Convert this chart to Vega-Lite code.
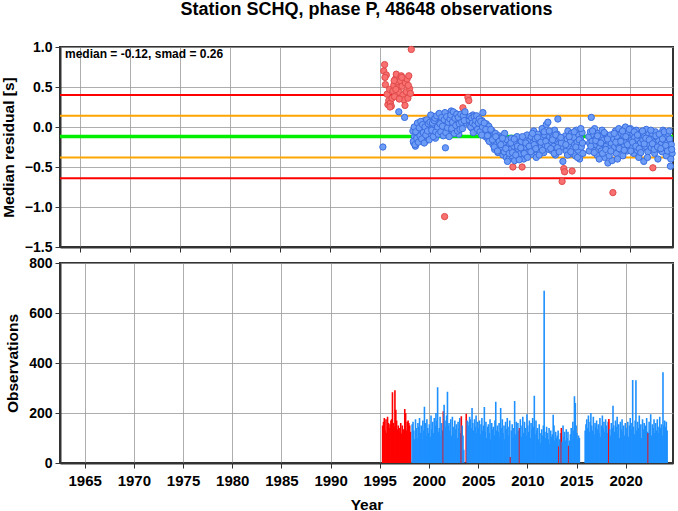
{
"$schema": "https://vega.github.io/schema/vega-lite/v6.json",
"padding": {"left": 0, "top": 1, "right": 2, "bottom": 0},
"title": {"text": "Station SCHQ, phase P, 48648 observations", "font": "Liberation Sans", "fontSize": 18, "fontWeight": "bold", "color": "#000", "anchor": "middle", "frame": "group", "offset": 20},
"bounds": "flush",
"spacing": 16,
"config": {
  "font": "Liberation Sans",
  "view": {"stroke": "#333", "strokeWidth": 2},
  "axis": {"labelFont": "Liberation Sans", "labelFontSize": 14, "labelFontWeight": "bold", "labelColor": "#000", "titleFont": "Liberation Sans", "titleFontSize": 15.5, "titleFontWeight": "bold", "titleColor": "#000", "gridColor": "#999", "gridWidth": 0.8, "domainColor": "#333", "domainWidth": 2, "tickColor": "#333", "tickSize": 5, "tickWidth": 1, "labelPadding": 3, "labelOverlap": false, "labelFlush": false}
},
"datasets": {
"lines": [{"v": 0.40, "c": "r"}, {"v": 0.14, "c": "o"}, {"v": -0.12, "c": "g"}, {"v": -0.38, "c": "o"}, {"v": -0.64, "c": "r"}],
"p2": [
{"t":1995.50,"m":0.62,"f":1},{"t":1996.00,"m":0.25,"f":1},{"t":1996.42,"m":0.58,"f":1},{"t":1996.58,"m":0.47,"f":1},{"t":1996.92,"m":0.35,"f":1},{"t":1997.17,"m":0.62,"f":1},{"t":1997.50,"m":0.27,"f":1},{"t":1997.83,"m":0.52,"f":1},
{"t":1998.33,"m":-0.18},{"t":1998.42,"m":0.00},{"t":1998.50,"m":-0.22},{"t":1998.58,"m":-0.06},{"t":1998.67,"m":-0.14},{"t":1998.75,"m":0.05},{"t":1998.83,"m":-0.19},{"t":1998.92,"m":-0.01},{"t":1999.00,"m":-0.11},
{"t":1999.08,"m":0.07},{"t":1999.17,"m":-0.15},{"t":1999.25,"m":0.03},{"t":1999.33,"m":-0.07},{"t":1999.42,"m":-0.20},{"t":1999.50,"m":0.00},{"t":1999.58,"m":-0.10},{"t":1999.67,"m":0.09},{"t":1999.75,"m":-0.05},{"t":1999.83,"m":0.04},{"t":1999.92,"m":-0.16},{"t":2000.00,"m":0.06},
{"t":2000.08,"m":0.15},{"t":2000.17,"m":-0.04},{"t":2000.25,"m":0.05},{"t":2000.33,"m":-0.12},{"t":2000.42,"m":0.08},{"t":2000.50,"m":0.11},{"t":2000.58,"m":-0.06},{"t":2000.67,"m":0.14},{"t":2000.75,"m":0.00},{"t":2000.83,"m":-0.09},{"t":2000.92,"m":0.17},{"t":2001.00,"m":0.04},
{"t":2001.08,"m":-0.06},{"t":2001.17,"m":0.12},{"t":2001.25,"m":0.01},{"t":2001.33,"m":-0.11},{"t":2001.42,"m":0.09},{"t":2001.50,"m":0.18},{"t":2001.58,"m":-0.07},{"t":2001.67,"m":0.13},{"t":2001.75,"m":-0.01},{"t":2001.83,"m":0.06},{"t":2001.92,"m":-0.12},{"t":2002.00,"m":0.10},
{"t":2002.08,"m":0.15},{"t":2002.17,"m":-0.02},{"t":2002.25,"m":0.06},{"t":2002.33,"m":0.19},{"t":2002.42,"m":-0.08},{"t":2002.50,"m":0.11},{"t":2002.58,"m":0.02},{"t":2002.67,"m":0.16},{"t":2002.75,"m":-0.05},{"t":2002.83,"m":0.12},{"t":2002.92,"m":0.04},{"t":2003.00,"m":-0.03},
{"t":2003.08,"m":0.16},{"t":2003.17,"m":0.06},{"t":2003.25,"m":-0.02},{"t":2003.33,"m":0.14},{"t":2003.42,"m":0.08},{"t":2003.50,"m":0.19},{"t":2003.92,"m":0.09},{"t":2004.00,"m":0.13},
{"t":2004.08,"m":0.00},{"t":2004.17,"m":0.11},{"t":2004.25,"m":0.05},{"t":2004.33,"m":-0.07},{"t":2004.42,"m":0.13},{"t":2004.50,"m":0.03},{"t":2004.58,"m":0.08},{"t":2004.67,"m":0.14},{"t":2004.75,"m":-0.03},{"t":2004.83,"m":0.05},{"t":2004.92,"m":0.10},{"t":2005.00,"m":-0.06},
{"t":2005.08,"m":0.07},{"t":2005.17,"m":-0.10},{"t":2005.25,"m":0.00},{"t":2005.42,"m":0.05},{"t":2005.58,"m":-0.03},{"t":2005.75,"m":-0.11},{"t":2005.92,"m":-0.18},
{"t":2006.08,"m":-0.03},{"t":2006.25,"m":-0.16},{"t":2006.42,"m":-0.25},{"t":2006.58,"m":-0.12},{"t":2006.75,"m":-0.30},{"t":2006.92,"m":-0.18},
{"t":2007.08,"m":-0.22},{"t":2007.25,"m":-0.14},{"t":2007.42,"m":-0.31},{"t":2007.58,"m":-0.27},{"t":2007.75,"m":-0.43},{"t":2007.92,"m":-0.33},
{"t":2008.08,"m":-0.20},{"t":2008.25,"m":-0.32},{"t":2008.42,"m":-0.15},{"t":2008.58,"m":-0.35},{"t":2008.75,"m":-0.24},{"t":2008.92,"m":-0.41},
{"t":2009.08,"m":-0.26},{"t":2009.25,"m":-0.12},{"t":2009.42,"m":-0.33},{"t":2009.58,"m":-0.20},{"t":2009.75,"m":-0.38},{"t":2009.92,"m":-0.24},
{"t":2010.08,"m":-0.31},{"t":2010.25,"m":-0.08},{"t":2010.42,"m":-0.22},{"t":2010.58,"m":-0.27},{"t":2010.75,"m":-0.13},{"t":2010.92,"m":-0.35},
{"t":2011.08,"m":-0.19},{"t":2011.25,"m":-0.29},{"t":2011.42,"m":-0.06},{"t":2011.58,"m":-0.18},{"t":2011.75,"m":-0.24},{"t":2011.92,"m":-0.05},
{"t":2012.08,"m":-0.27},{"t":2012.25,"m":-0.16},{"t":2012.42,"m":-0.33},{"t":2012.58,"m":-0.10},{"t":2012.75,"m":-0.26},{"t":2012.92,"m":-0.31},
{"t":2013.08,"m":-0.13},{"t":2013.58,"m":-0.22},{"t":2013.75,"m":-0.35},{"t":2013.92,"m":-0.12},
{"t":2014.08,"m":-0.31},{"t":2014.42,"m":-0.06},{"t":2014.58,"m":-0.25},{"t":2014.75,"m":-0.38},{"t":2014.92,"m":-0.16},
{"t":2015.08,"m":-0.02},{"t":2015.25,"m":-0.20},{"t":2015.92,"m":-0.30},
{"t":2016.08,"m":-0.24},{"t":2016.25,"m":-0.05},{"t":2016.42,"m":-0.32},{"t":2016.58,"m":-0.17},{"t":2016.75,"m":-0.11},{"t":2016.92,"m":-0.40},
{"t":2017.08,"m":-0.20},{"t":2017.25,"m":-0.33},{"t":2017.42,"m":-0.07},{"t":2017.58,"m":-0.28},{"t":2017.75,"m":-0.15},{"t":2017.92,"m":-0.36},
{"t":2018.08,"m":-0.30},{"t":2018.42,"m":-0.08},{"t":2018.58,"m":-0.19},{"t":2018.75,"m":-0.40},{"t":2018.92,"m":-0.27},
{"t":2019.08,"m":-0.18},{"t":2019.25,"m":-0.05},{"t":2019.42,"m":-0.29},{"t":2019.58,"m":-0.12},{"t":2019.75,"m":-0.22},{"t":2019.92,"m":-0.03},
{"t":2020.08,"m":-0.30},{"t":2020.25,"m":-0.19},{"t":2020.42,"m":-0.06},{"t":2020.58,"m":-0.24},{"t":2020.75,"m":-0.10},{"t":2020.92,"m":-0.27},
{"t":2021.08,"m":-0.32},{"t":2021.25,"m":-0.05},{"t":2021.42,"m":-0.21},{"t":2021.58,"m":-0.14},{"t":2021.75,"m":-0.38},{"t":2021.92,"m":-0.16},
{"t":2022.08,"m":-0.04},{"t":2022.25,"m":-0.21},{"t":2022.42,"m":-0.28},{"t":2022.58,"m":-0.11},{"t":2022.75,"m":-0.25},{"t":2022.92,"m":-0.09},
{"t":2023.08,"m":-0.27},{"t":2023.25,"m":-0.15},{"t":2023.42,"m":-0.06},{"t":2023.58,"m":-0.23},{"t":2023.75,"m":-0.30},{"t":2023.92,"m":-0.05},
{"t":2024.08,"m":-0.40},{"t":2024.17,"m":-0.28}
],
"d": [
{"t":1995.29,"m":-0.25,"n":150,"g":1},
{"t":1995.38,"m":0.70,"n":165,"f":1,"g":1},
{"t":1995.46,"m":0.78,"n":180,"f":1,"g":1},
{"t":1995.54,"m":0.53,"n":130,"f":1,"g":1},
{"t":1995.63,"m":0.65,"n":175,"f":1,"g":1},
{"t":1995.71,"m":0.41,"n":120,"f":1,"g":1},
{"t":1995.79,"m":0.28,"n":185,"f":1,"g":1},
{"t":1995.88,"m":0.33,"n":160,"f":1,"g":1},
{"t":1995.96,"m":0.47,"n":140,"f":1,"g":1},
{"t":1996.04,"m":0.30,"n":155,"f":1,"g":1},
{"t":1996.13,"m":0.26,"n":170,"f":1,"g":1},
{"t":1996.21,"m":0.36,"n":175,"f":1,"g":1},
{"t":1996.29,"m":0.45,"n":283,"f":1,"g":1},
{"t":1996.38,"m":0.52,"n":160,"f":1,"g":1},
{"t":1996.46,"m":0.38,"n":145,"f":1,"g":1},
{"t":1996.54,"m":0.60,"n":291,"f":1,"g":1},
{"t":1996.63,"m":0.66,"n":213,"f":1,"g":1},
{"t":1996.71,"m":0.56,"n":170,"f":1,"g":1},
{"t":1996.79,"m":0.49,"n":135,"f":1,"g":1},
{"t":1996.88,"m":0.19,"n":150,"g":1},
{"t":1996.96,"m":0.43,"n":125,"f":1,"g":1},
{"t":1997.04,"m":0.58,"n":140,"f":1,"g":1},
{"t":1997.13,"m":0.64,"n":160,"f":1,"g":1},
{"t":1997.21,"m":0.51,"n":118,"f":1,"g":1},
{"t":1997.29,"m":0.40,"n":150,"f":1,"g":1},
{"t":1997.38,"m":0.34,"n":135,"f":1,"g":1},
{"t":1997.46,"m":0.12,"n":125,"g":1},
{"t":1997.54,"m":0.55,"n":216,"f":1,"g":1},
{"t":1997.63,"m":0.44,"n":200,"f":1,"g":1},
{"t":1997.71,"m":0.60,"n":130,"f":1,"g":1},
{"t":1997.79,"m":0.36,"n":165,"f":1,"g":1},
{"t":1997.88,"m":0.64,"n":170,"f":1,"g":1},
{"t":1997.96,"m":0.48,"n":160,"f":1,"g":1},
{"t":1998.04,"m":0.42,"n":150,"f":1,"g":1},
{"t":1998.13,"m":0.97,"n":125,"f":1,"g":1},
{"t":1998.29,"m":-0.05,"n":155},
{"t":1998.38,"m":-0.20,"n":165},
{"t":1998.46,"m":-0.12,"n":130},
{"t":1998.54,"m":-0.24,"n":95},
{"t":1998.63,"m":-0.02,"n":175},
{"t":1998.71,"m":-0.10,"n":140},
{"t":1998.79,"m":0.02,"n":100},
{"t":1998.88,"m":-0.08,"n":160},
{"t":1998.96,"m":-0.15,"n":145},
{"t":1999.04,"m":-0.04,"n":180},
{"t":1999.13,"m":0.05,"n":120},
{"t":1999.21,"m":-0.12,"n":150},
{"t":1999.29,"m":-0.02,"n":95},
{"t":1999.38,"m":-0.09,"n":170},
{"t":1999.46,"m":0.08,"n":130},
{"t":1999.54,"m":-0.18,"n":225},
{"t":1999.63,"m":-0.06,"n":160},
{"t":1999.71,"m":0.01,"n":110},
{"t":1999.79,"m":-0.13,"n":175},
{"t":1999.88,"m":-0.03,"n":140},
{"t":1999.96,"m":-0.08,"n":120},
{"t":2000.04,"m":0.02,"n":155},
{"t":2000.13,"m":-0.10,"n":105},
{"t":2000.21,"m":0.10,"n":190},
{"t":2000.29,"m":-0.05,"n":135},
{"t":2000.38,"m":0.13,"n":165},
{"t":2000.46,"m":-0.01,"n":120},
{"t":2000.54,"m":-0.14,"n":180},
{"t":2000.63,"m":0.06,"n":150},
{"t":2000.71,"m":-0.07,"n":200},
{"t":2000.79,"m":0.09,"n":170},
{"t":2000.88,"m":-0.03,"n":303},
{"t":2000.96,"m":0.12,"n":125},
{"t":2001.04,"m":-0.02,"n":140},
{"t":2001.13,"m":0.08,"n":185},
{"t":2001.21,"m":-0.08,"n":110},
{"t":2001.29,"m":0.14,"n":160},
{"t":2001.38,"m":0.03,"n":130},
{"t":2001.46,"m":-1.12,"n":207,"f":1,"g":1},
{"t":2001.54,"m":-0.26,"n":233},
{"t":2001.63,"m":0.05,"n":170},
{"t":2001.71,"m":0.11,"n":145},
{"t":2001.79,"m":-0.04,"n":190},
{"t":2001.88,"m":0.16,"n":285},
{"t":2001.96,"m":0.07,"n":150},
{"t":2002.04,"m":0.00,"n":160},
{"t":2002.13,"m":0.20,"n":130},
{"t":2002.21,"m":0.09,"n":175},
{"t":2002.29,"m":-0.06,"n":110},
{"t":2002.38,"m":0.13,"n":185},
{"t":2002.46,"m":0.04,"n":145},
{"t":2002.54,"m":0.17,"n":120},
{"t":2002.63,"m":-0.03,"n":170},
{"t":2002.71,"m":0.10,"n":135},
{"t":2002.79,"m":0.06,"n":155},
{"t":2002.88,"m":-0.09,"n":100},
{"t":2002.96,"m":0.14,"n":165},
{"t":2003.04,"m":0.08,"n":140},
{"t":2003.13,"m":0.12,"n":180},
{"t":2003.21,"m":0.03,"n":120},
{"t":2003.29,"m":0.24,"n":187,"f":1,"g":1},
{"t":2003.38,"m":0.11,"n":150},
{"t":2003.46,"m":0.15,"n":110},
{"t":2003.54,"m":0.05,"n":53},
{"t":2003.79,"m":0.37,"n":197,"f":1,"g":1},
{"t":2003.88,"m":0.33,"n":170,"f":1},
{"t":2003.96,"m":0.02,"n":165},
{"t":2004.04,"m":0.10,"n":150},
{"t":2004.13,"m":0.04,"n":185},
{"t":2004.21,"m":-0.02,"n":175},
{"t":2004.29,"m":0.15,"n":140},
{"t":2004.38,"m":0.07,"n":220},
{"t":2004.46,"m":0.01,"n":160},
{"t":2004.54,"m":0.12,"n":130},
{"t":2004.63,"m":-0.05,"n":175},
{"t":2004.71,"m":0.06,"n":145},
{"t":2004.79,"m":0.09,"n":190},
{"t":2004.88,"m":-0.01,"n":120},
{"t":2004.96,"m":0.03,"n":165},
{"t":2005.04,"m":0.05,"n":140},
{"t":2005.13,"m":-0.04,"n":170},
{"t":2005.21,"m":0.08,"n":115},
{"t":2005.29,"m":0.18,"n":155},
{"t":2005.38,"m":-0.08,"n":180},
{"t":2005.46,"m":0.02,"n":130},
{"t":2005.54,"m":-0.12,"n":150},
{"t":2005.63,"m":0.04,"n":224},
{"t":2005.71,"m":-0.06,"n":125},
{"t":2005.79,"m":-0.15,"n":165},
{"t":2005.88,"m":0.01,"n":100},
{"t":2005.96,"m":-0.09,"n":145},
{"t":2006.04,"m":-0.10,"n":155},
{"t":2006.13,"m":-0.18,"n":120},
{"t":2006.21,"m":-0.05,"n":175},
{"t":2006.29,"m":-0.22,"n":95},
{"t":2006.38,"m":-0.13,"n":160},
{"t":2006.46,"m":-0.28,"n":135},
{"t":2006.54,"m":-0.08,"n":145},
{"t":2006.63,"m":-0.20,"n":110},
{"t":2006.71,"m":-0.15,"n":170},
{"t":2006.79,"m":-0.32,"n":245},
{"t":2006.88,"m":-0.11,"n":130},
{"t":2006.96,"m":-0.24,"n":150},
{"t":2007.04,"m":-0.17,"n":125},
{"t":2007.13,"m":-0.26,"n":160},
{"t":2007.21,"m":-0.12,"n":105},
{"t":2007.29,"m":-0.35,"n":220},
{"t":2007.38,"m":-0.20,"n":140},
{"t":2007.46,"m":-0.08,"n":175},
{"t":2007.54,"m":-0.30,"n":120},
{"t":2007.63,"m":-0.38,"n":150},
{"t":2007.71,"m":-0.16,"n":95},
{"t":2007.79,"m":-0.25,"n":165},
{"t":2007.88,"m":-0.40,"n":135},
{"t":2007.96,"m":-0.22,"n":180},
{"t":2008.04,"m":-0.28,"n":145},
{"t":2008.13,"m":-0.14,"n":110},
{"t":2008.21,"m":-0.36,"n":170},
{"t":2008.29,"m":-0.50,"n":24,"f":1,"g":1},
{"t":2008.38,"m":-0.24,"n":130},
{"t":2008.46,"m":-0.42,"n":155},
{"t":2008.54,"m":-0.19,"n":100},
{"t":2008.63,"m":-0.31,"n":140},
{"t":2008.71,"m":-0.12,"n":248},
{"t":2008.79,"m":-0.27,"n":115},
{"t":2008.88,"m":-0.38,"n":165},
{"t":2008.96,"m":-0.21,"n":125},
{"t":2009.04,"m":-0.33,"n":160},
{"t":2009.13,"m":-0.18,"n":130},
{"t":2009.21,"m":-0.50,"n":140,"f":1,"g":1},
{"t":2009.29,"m":-0.29,"n":175},
{"t":2009.38,"m":-0.40,"n":105},
{"t":2009.46,"m":-0.14,"n":150},
{"t":2009.54,"m":-0.25,"n":185},
{"t":2009.63,"m":-0.36,"n":120},
{"t":2009.71,"m":-0.10,"n":165},
{"t":2009.79,"m":-0.22,"n":140},
{"t":2009.88,"m":-0.31,"n":110},
{"t":2009.96,"m":-0.17,"n":195},
{"t":2010.04,"m":-0.26,"n":150},
{"t":2010.13,"m":-0.12,"n":125},
{"t":2010.21,"m":-0.34,"n":170},
{"t":2010.29,"m":-0.20,"n":100},
{"t":2010.38,"m":-0.05,"n":160},
{"t":2010.46,"m":-0.28,"n":135},
{"t":2010.54,"m":-0.15,"n":180},
{"t":2010.63,"m":-0.38,"n":145},
{"t":2010.71,"m":-0.22,"n":269},
{"t":2010.79,"m":-0.09,"n":115},
{"t":2010.88,"m":-0.30,"n":170},
{"t":2010.96,"m":-0.18,"n":130},
{"t":2011.04,"m":-0.14,"n":140},
{"t":2011.13,"m":-0.25,"n":95},
{"t":2011.21,"m":-0.02,"n":155},
{"t":2011.29,"m":-0.20,"n":120},
{"t":2011.38,"m":-0.32,"n":80},
{"t":2011.46,"m":-0.10,"n":135},
{"t":2011.54,"m":-0.23,"n":110},
{"t":2011.63,"m":0.03,"n":150},
{"t":2011.71,"m":-0.16,"n":689},
{"t":2011.79,"m":0.06,"n":125},
{"t":2011.88,"m":-0.28,"n":100},
{"t":2011.96,"m":-0.12,"n":145},
{"t":2012.04,"m":-0.19,"n":120},
{"t":2012.13,"m":-0.07,"n":95},
{"t":2012.21,"m":-0.30,"n":140},
{"t":2012.29,"m":-0.13,"n":75},
{"t":2012.38,"m":-0.24,"n":130},
{"t":2012.46,"m":-0.04,"n":105},
{"t":2012.54,"m":-0.35,"n":115},
{"t":2012.63,"m":-0.17,"n":193},
{"t":2012.71,"m":-0.09,"n":150},
{"t":2012.79,"m":0.10,"n":90},
{"t":2012.88,"m":-0.21,"n":125},
{"t":2012.96,"m":-0.14,"n":100},
{"t":2013.04,"m":-0.26,"n":110},
{"t":2013.13,"m":-0.20,"n":130},
{"t":2013.21,"m":-0.68,"n":67,"f":1,"g":1},
{"t":2013.29,"m":-0.43,"n":95},
{"t":2013.38,"m":-0.52,"n":120,"f":1},
{"t":2013.46,"m":-0.56,"n":140,"f":1,"g":1},
{"t":2013.54,"m":-0.11,"n":85},
{"t":2013.63,"m":-0.30,"n":150},
{"t":2013.71,"m":-0.15,"n":105},
{"t":2013.79,"m":-0.05,"n":125},
{"t":2013.88,"m":-0.24,"n":90},
{"t":2013.96,"m":-0.34,"n":135},
{"t":2014.04,"m":-0.18,"n":100},
{"t":2014.13,"m":-0.08,"n":125},
{"t":2014.21,"m":-0.55,"n":69,"f":1,"g":1},
{"t":2014.29,"m":-0.27,"n":90},
{"t":2014.38,"m":-0.13,"n":115},
{"t":2014.46,"m":-0.22,"n":140},
{"t":2014.54,"m":-0.36,"n":95},
{"t":2014.63,"m":-0.04,"n":165},
{"t":2014.71,"m":-0.19,"n":130},
{"t":2014.79,"m":-0.29,"n":267},
{"t":2014.88,"m":-0.10,"n":240},
{"t":2014.96,"m":-0.40,"n":150},
{"t":2015.04,"m":-0.15,"n":120},
{"t":2015.13,"m":-0.25,"n":95},
{"t":2015.21,"m":-0.07,"n":110},
{"t":2015.29,"m":-0.33,"n":100},
{"t":2015.88,"m":-0.12,"n":130},
{"t":2015.96,"m":-0.20,"n":155},
{"t":2016.04,"m":-0.06,"n":175},
{"t":2016.13,"m":0.12,"n":140},
{"t":2016.21,"m":-0.18,"n":190},
{"t":2016.29,"m":-0.28,"n":125},
{"t":2016.38,"m":-0.10,"n":165},
{"t":2016.46,"m":-0.02,"n":200},
{"t":2016.54,"m":-0.22,"n":150},
{"t":2016.63,"m":-0.14,"n":130},
{"t":2016.71,"m":-0.35,"n":185},
{"t":2016.79,"m":-0.08,"n":115},
{"t":2016.88,"m":-0.19,"n":160},
{"t":2016.96,"m":-0.26,"n":145},
{"t":2017.04,"m":-0.12,"n":170},
{"t":2017.13,"m":-0.30,"n":135},
{"t":2017.21,"m":-0.04,"n":155},
{"t":2017.29,"m":-0.21,"n":120},
{"t":2017.38,"m":-0.16,"n":180},
{"t":2017.46,"m":-0.38,"n":105},
{"t":2017.54,"m":-0.09,"n":150},
{"t":2017.63,"m":-0.24,"n":190},
{"t":2017.71,"m":-0.13,"n":140},
{"t":2017.79,"m":-0.45,"n":165},
{"t":2017.88,"m":-0.18,"n":125},
{"t":2017.96,"m":-0.27,"n":175},
{"t":2018.04,"m":-0.10,"n":150},
{"t":2018.13,"m":-0.20,"n":120},
{"t":2018.21,"m":-0.42,"n":165},
{"t":2018.29,"m":-0.82,"n":176,"f":1,"g":1},
{"t":2018.38,"m":-0.15,"n":135},
{"t":2018.46,"m":-0.25,"n":110},
{"t":2018.54,"m":-0.05,"n":160},
{"t":2018.63,"m":-0.33,"n":140},
{"t":2018.71,"m":-0.12,"n":229},
{"t":2018.79,"m":-0.22,"n":150},
{"t":2018.88,"m":-0.02,"n":125},
{"t":2018.96,"m":-0.18,"n":170},
{"t":2019.04,"m":-0.28,"n":145},
{"t":2019.13,"m":-0.08,"n":185},
{"t":2019.21,"m":-0.16,"n":120},
{"t":2019.29,"m":-0.36,"n":155},
{"t":2019.38,"m":-0.11,"n":100},
{"t":2019.46,"m":-0.23,"n":165},
{"t":2019.54,"m":0.00,"n":135},
{"t":2019.63,"m":-0.19,"n":175},
{"t":2019.71,"m":-0.30,"n":125},
{"t":2019.79,"m":-0.07,"n":150},
{"t":2019.88,"m":-0.14,"n":110},
{"t":2019.96,"m":-0.25,"n":160},
{"t":2020.04,"m":-0.02,"n":140},
{"t":2020.13,"m":-0.17,"n":120},
{"t":2020.21,"m":-0.26,"n":165},
{"t":2020.29,"m":-0.09,"n":105},
{"t":2020.38,"m":-0.33,"n":150},
{"t":2020.46,"m":-0.13,"n":180},
{"t":2020.54,"m":-0.21,"n":135},
{"t":2020.63,"m":-0.04,"n":160},
{"t":2020.71,"m":-0.29,"n":332},
{"t":2020.79,"m":-0.15,"n":145},
{"t":2020.88,"m":-0.38,"n":115},
{"t":2020.96,"m":-0.11,"n":170},
{"t":2021.04,"m":-0.20,"n":331},
{"t":2021.13,"m":-0.07,"n":130},
{"t":2021.21,"m":-0.27,"n":165},
{"t":2021.29,"m":-0.16,"n":140},
{"t":2021.38,"m":-0.43,"n":190},
{"t":2021.46,"m":-0.12,"n":120},
{"t":2021.54,"m":-0.24,"n":155},
{"t":2021.63,"m":-0.03,"n":100},
{"t":2021.71,"m":-0.18,"n":175},
{"t":2021.79,"m":-0.31,"n":135},
{"t":2021.88,"m":-0.09,"n":160},
{"t":2021.96,"m":-0.22,"n":145},
{"t":2022.04,"m":-0.14,"n":150},
{"t":2022.13,"m":-0.26,"n":180},
{"t":2022.21,"m":-0.08,"n":125},
{"t":2022.29,"m":-0.51,"n":120,"f":1,"g":1},
{"t":2022.38,"m":-0.19,"n":165},
{"t":2022.46,"m":-0.33,"n":135},
{"t":2022.54,"m":-0.06,"n":195},
{"t":2022.63,"m":-0.23,"n":110},
{"t":2022.71,"m":-0.13,"n":155},
{"t":2022.79,"m":-0.40,"n":140},
{"t":2022.88,"m":-0.17,"n":175},
{"t":2022.96,"m":-0.28,"n":120},
{"t":2023.04,"m":-0.10,"n":160},
{"t":2023.13,"m":-0.21,"n":130},
{"t":2023.21,"m":-0.31,"n":175},
{"t":2023.29,"m":-0.04,"n":145},
{"t":2023.38,"m":-0.16,"n":120},
{"t":2023.46,"m":-0.25,"n":185},
{"t":2023.54,"m":-0.12,"n":140},
{"t":2023.63,"m":-0.36,"n":155},
{"t":2023.71,"m":-0.20,"n":110},
{"t":2023.79,"m":-0.08,"n":363},
{"t":2023.88,"m":-0.29,"n":150},
{"t":2023.96,"m":-0.15,"n":170},
{"t":2024.04,"m":-0.49,"n":145},
{"t":2024.13,"m":-0.22,"n":165},
{"t":2024.21,"m":-0.33,"n":130}
]
},
"vconcat": [
{
  "width": 613,
  "height": 200,
  "layer": [
    {
      "data": {"name": "d"},
      "mark": {"type": "circle", "size": 40, "strokeWidth": 1, "opacity": 1},
      "encoding": {
        "x": {"field": "t", "type": "quantitative", "scale": {"domain": [1963, 2024.3], "nice": false, "zero": false},
              "axis": {"values": [1965, 1970, 1975, 1980, 1985, 1990, 1995, 2000, 2005, 2010, 2015, 2020], "tickCount": 20, "labels": false, "title": null, "grid": true}},
        "y": {"field": "m", "type": "quantitative", "scale": {"domain": [-1.5, 1], "nice": false, "zero": false},
              "axis": {"values": [-1.5, -1, -0.5, 0, 0.5, 1], "tickCount": 10, "format": ".1f", "labelOverlap": false, "title": "Median residual [s]", "titlePadding": 8, "grid": true}},
        "opacity": {"value": 0}
      }
    },
    {
      "data": {"name": "lines"},
      "transform": [{"filter": "datum.c != 'g'"}],
      "mark": {"type": "rule", "strokeWidth": 2},
      "encoding": {
        "y": {"field": "v", "type": "quantitative"},
        "color": {"field": "c", "type": "nominal", "scale": {"domain": ["r", "o"], "range": ["#ff0000", "#ffa500"]}, "legend": null}
      }
    },
    {
      "data": {"name": "lines"},
      "transform": [{"filter": "datum.c == 'g'"}],
      "mark": {"type": "rule", "strokeWidth": 3.5, "color": "#00ee00"},
      "encoding": {
        "y": {"field": "v", "type": "quantitative"}
      }
    },
    {
      "data": {"name": "d"},
      "mark": {"type": "circle", "size": 40, "strokeWidth": 1, "opacity": 1},
      "encoding": {
        "x": {"field": "t", "type": "quantitative"},
        "y": {"field": "m", "type": "quantitative"},
        "fill": {"condition": {"test": "datum.f == 1", "value": "#f87070"}, "value": "#6d9cf6"},
        "stroke": {"condition": {"test": "datum.f == 1", "value": "#e04a4a"}, "value": "#3a6ee0"}
      }
    },
    {
      "data": {"name": "p2"},
      "mark": {"type": "circle", "size": 40, "strokeWidth": 1, "opacity": 1},
      "encoding": {
        "x": {"field": "t", "type": "quantitative"},
        "y": {"field": "m", "type": "quantitative"},
        "fill": {"condition": {"test": "datum.f == 1", "value": "#f87070"}, "value": "#6d9cf6"},
        "stroke": {"condition": {"test": "datum.f == 1", "value": "#e04a4a"}, "value": "#3a6ee0"}
      }
    },
    {
      "data": {"values": [{"label": "median = -0.12, smad = 0.26"}]},
      "mark": {"type": "text", "align": "left", "baseline": "alphabetic", "font": "Liberation Sans", "fontSize": 12, "fontWeight": "bold", "color": "#000"},
      "encoding": {
        "x": {"datum": 1963.5},
        "y": {"datum": 0.86},
        "text": {"field": "label"}
      }
    }
  ]
},
{
  "width": 613,
  "height": 200,
  "data": {"name": "d"},
  "mark": {"type": "bar", "orient": "vertical", "width": 1.6},
  "encoding": {
    "x": {"field": "t", "type": "quantitative", "scale": {"domain": [1963, 2024.3], "nice": false, "zero": false},
          "axis": {"values": [1965, 1970, 1975, 1980, 1985, 1990, 1995, 2000, 2005, 2010, 2015, 2020], "tickCount": 20, "format": "d", "labelFontSize": 15, "labelPadding": 5, "title": "Year", "titlePadding": 9, "grid": true}},
    "y": {"field": "n", "type": "quantitative", "scale": {"domain": [0, 800], "nice": false},
          "axis": {"values": [0, 200, 400, 600, 800], "tickCount": 10, "title": "Observations", "titlePadding": 8, "grid": true}},
    "color": {"condition": {"test": "datum.g == 1", "value": "#ff0000"}, "value": "#1e90ff"}
  }
}
]
}
